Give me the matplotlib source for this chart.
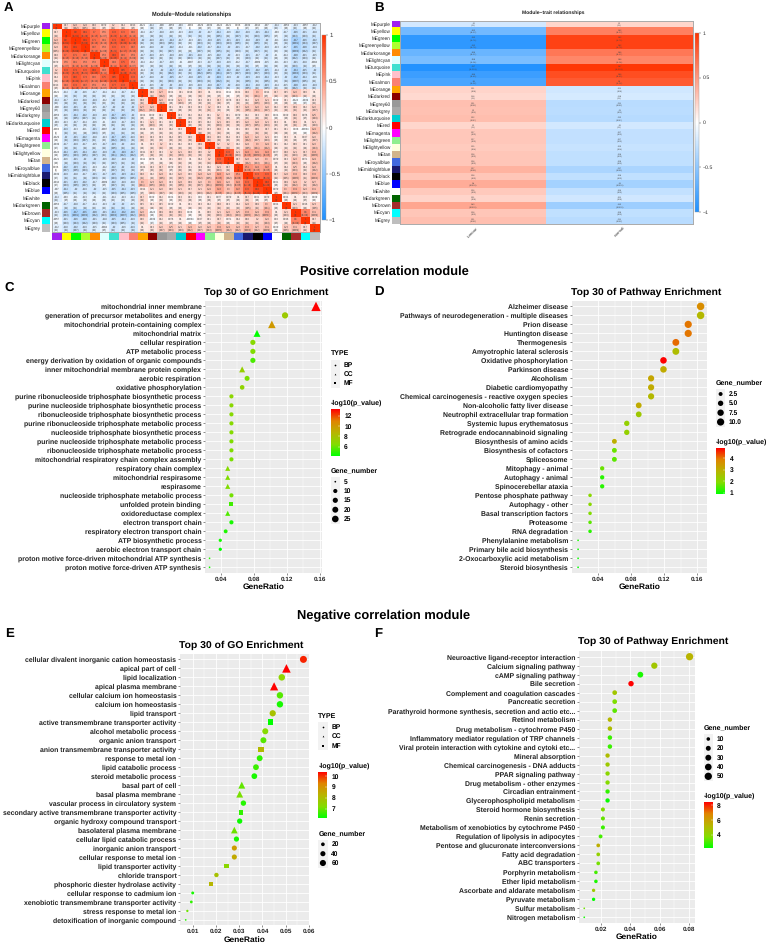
import math

import matplotlib
matplotlib.use("Agg")
import matplotlib.pyplot as plt
import numpy as np
from matplotlib.cm import ScalarMappable
from matplotlib.colors import LinearSegmentedColormap, ListedColormap, Normalize
from matplotlib.patches import Rectangle

plt.rcParams["font.family"] = ["Liberation Sans", "DejaVu Sans"]
plt.rcParams["text.hinting"] = "no_hinting"  # tiny labels look rough when hinted

W, H = 768, 944

# WGCNA module eigengenes, in clustering order
modules = [
    "purple", "yellow", "green", "greenyellow", "darkorange", "lightcyan", "turquoise",
    "pink", "salmon", "orange", "darkred", "grey60", "darkgrey", "darkturquoise", "red",
    "magenta", "lightgreen", "lightyellow", "tan", "royalblue", "midnightblue", "black",
    "blue", "white", "darkgreen", "brown", "cyan", "grey",
]
module_colors = [
    "#A020F0", "#FFFF00", "#00FF00", "#ADFF2F", "#FF8C00", "#E0FFFF", "#40E0D0",
    "#FFC0CB", "#FA8072", "#FFA500", "#8B0000", "#999999", "#A9A9A9", "#00CED1", "#FF0000",
    "#FF00FF", "#90EE90", "#FFFFE0", "#D2B48C", "#4169E1", "#191970", "#000000",
    "#0000FF", "#FFFFFF", "#006400", "#A52A2A", "#00FFFF", "#BEBEBE",
]

# upper triangle of the module-module correlation, one row per module
module_corr = [
    [1, .17, .28, .24, .18, .079, .2, .14, .093, -.021, -.14, -.08, -.063, -.09, -.004, -.029, -.049, -.024, -.021, .006, -.049, -.044, -.07, -.14, -.064, -.13, -.067, -.12],
    [1, .9, .81, .7, .55, .78, .72, .62, -.14, -.17, -.18, -.16, -.13, -.19, -.2, -.17, -.24, -.16, -.22, -.19, -.21, -.24, -.09, -.17, -.26, -.21, -.18],
    [1, .91, .71, .61, .79, .82, .74, -.2, -.19, -.21, -.24, -.17, -.13, -.21, -.19, -.25, -.21, -.23, -.18, -.23, -.2, -.11, -.18, -.37, -.26, -.22],
    [1, .67, .58, .76, .73, .67, -.16, -.18, -.2, -.22, -.14, -.11, -.22, -.17, -.24, -.2, -.21, -.17, -.22, -.19, -.13, -.17, -.35, -.28, -.19],
    [1, .58, .84, .66, .59, -.17, -.19, -.15, -.19, -.16, -.21, -.18, -.15, -.22, -.2, -.13, -.21, -.17, -.2, -.1, -.14, -.28, -.21, -.15],
    [1, .63, .75, .54, -.14, -.12, -.17, -.16, -.1, -.087, -.13, -.17, -.19, -.16, -.12, -.17, -.089, -.15, -.11, -.13, -.21, -.18, -.084],
    [1, .85, .77, -.14, -.2, -.2, -.27, -.19, -.2, -.27, -.23, -.3, -.22, -.22, -.25, -.22, -.25, -.14, -.2, -.34, -.25, -.2],
    [1, .78, -.17, -.18, -.2, -.25, -.17, -.18, -.25, -.2, -.29, -.19, -.2, -.23, -.19, -.24, -.13, -.2, -.32, -.24, -.16],
    [1, -.14, -.16, -.2, -.2, -.19, -.16, -.19, -.18, -.27, -.2, -.18, -.24, -.18, -.23, -.14, -.15, -.28, -.19, -.19],
    [1, .18, .27, .064, .11, .098, .16, .1, .091, .011, .084, .18, .3, .094, .17, .15, .26, .16, .1],
    [1, .26, .069, .21, .09, .13, .13, .17, .078, .13, .12, .23, .21, .029, .11, -.024, -.049, .13],
    [1, .11, .11, .13, .13, .2, .13, .1, .17, .24, .26, .22, .12, .15, .19, .12, .22],
    [1, .13, .12, .14, .11, .2, .11, .079, .12, .13, .16, .024, .069, .18, .076, .25],
    [1, .13, .15, .12, .21, .16, .15, .22, .24, .21, .13, .1, .19, .1, .21],
    [1, .16, .13, .18, .1, .11, .16, .19, .17, .11, .11, .028, -.0084, .29],
    [1, .19, .16, .14, .13, .28, .22, .21, .06, .13, .1, .087, .22],
    [1, .2, .2, .12, .24, .3, .29, .11, .12, .16, .11, .26],
    [1, .78, .21, .44, .41, .44, .077, .18, .21, .17, .33],
    [1, .17, .28, .26, .3, .079, .13, .26, .071, .29],
    [1, .51, .44, .47, .1, .14, .25, .14, .28],
    [1, .74, .76, .17, .24, .33, .18, .34],
    [1, .88, .061, .19, .29, .2, .27],
    [1, .079, .3, .39, .26, .31],
    [1, .064, .1, .08, .029],
    [1, .21, .096, .23],
    [1, .6, .31],
    [1, .17],
    [1],
]

# module-trait correlation with tumour; normal is the opposite sign
tumour_corr = [
    -.2, -.62, -.92, -.92, -.66, -.58, -.97, -.86, -.8, .21, .18, .31, .3, .32, .2, .27,
    .27, .25, .28, .28, .37, .28, .4, .26, .21, .43, .28, .31,
]
trait_names = ["tumour", "normal"]
sample_n = 66

# panel C
go_pos_terms = [
    "mitochondrial inner membrane", "generation of precursor metabolites and energy",
    "mitochondrial protein-containing complex", "mitochondrial matrix", "cellular respiration",
    "ATP metabolic process", "energy derivation by oxidation of organic compounds",
    "inner mitochondrial membrane protein complex", "aerobic respiration",
    "oxidative phosphorylation", "purine ribonucleoside triphosphate biosynthetic process",
    "purine nucleoside triphosphate biosynthetic process",
    "ribonucleoside triphosphate biosynthetic process",
    "purine ribonucleoside triphosphate metabolic process",
    "nucleoside triphosphate biosynthetic process",
    "purine nucleoside triphosphate metabolic process",
    "ribonucleoside triphosphate metabolic process",
    "mitochondrial respiratory chain complex assembly", "respiratory chain complex",
    "mitochondrial respirasome", "respirasome", "nucleoside triphosphate metabolic process",
    "unfolded protein binding", "oxidoreductase complex", "electron transport chain",
    "respiratory electron transport chain", "ATP biosynthetic process",
    "aerobic electron transport chain", "proton motive force-driven mitochondrial ATP synthesis",
    "proton motive force-driven ATP synthesis",
]
go_pos_ratio = [
    .1555, .118, .102, .084, .079, .079, .079, .066, .072, .066, .053, .053, .053, .053, .053,
    .053, .053, .053, .0485, .0485, .0485, .053, .053, .0485, .053, .046, .0395, .0395, .0265, .0265,
]
go_pos_genes = [30, 22, 19, 16, 15, 15, 15, 12, 14, 12, 10, 10, 10, 10, 10, 10, 10, 10, 9, 9, 9, 10, 10, 9, 10, 9, 7, 7, 5, 5]
go_pos_logp = [13.2, 7.5, 10, 4.2, 6.6, 6.4, 5.5, 7.2, 6.3, 6.9, 6.8, 6.7, 6.6, 6.6, 6.5, 6.4, 6.4, 6.3, 6.5, 6.4, 6.4, 6.2, 5.3, 5.6, 4.6, 4.7, 4.5, 4.2, 4.9, 4.5]
go_pos_type = ["CC", "BP", "CC", "CC", "BP", "BP", "BP", "CC", "BP", "BP", "BP", "BP", "BP", "BP", "BP", "BP", "BP", "BP", "CC", "CC", "CC", "BP", "MF", "CC", "BP", "BP", "BP", "BP", "BP", "BP"]

# panel D
kegg_pos_terms = [
    "Alzheimer disease", "Pathways of neurodegeneration - multiple diseases", "Prion disease",
    "Huntington disease", "Thermogenesis", "Amyotrophic lateral sclerosis",
    "Oxidative phosphorylation", "Parkinson disease", "Alcoholism", "Diabetic cardiomyopathy",
    "Chemical carcinogenesis - reactive oxygen species", "Non-alcoholic fatty liver disease",
    "Neutrophil extracellular trap formation", "Systemic lupus erythematosus",
    "Retrograde endocannabinoid signaling", "Biosynthesis of amino acids",
    "Biosynthesis of cofactors", "Spliceosome", "Mitophagy - animal", "Autophagy - animal",
    "Spinocerebellar ataxia", "Pentose phosphate pathway", "Autophagy - other",
    "Basal transcription factors", "Proteasome", "RNA degradation", "Phenylalanine metabolism",
    "Primary bile acid biosynthesis", "2-Oxocarboxylic acid metabolism", "Steroid biosynthesis",
]
kegg_pos_ratio = [
    .164, .164, .149, .149, .134, .134, .119, .119, .104, .104, .104, .089, .089, .0745, .0745,
    .0595, .0595, .0595, .0447, .0447, .0447, .03, .03, .03, .03, .03, .0155, .0155, .0155, .0155,
]
kegg_pos_genes = [11, 11, 10, 10, 9, 9, 8, 8, 7, 7, 7, 6, 6, 5, 5, 4, 4, 4, 3, 3, 3, 2, 2, 2, 2, 2, 1, 1, 1, 1]
kegg_pos_logp = [3.7, 2.8, 4.0, 4.0, 4.1, 2.7, 4.9, 3.1, 3.2, 3.1, 2.8, 3.1, 2.4, 2.2, 2.2, 3, 1.7, 1.6, 1.7, 1.2, 1.2, 2, 2, 1.9, 1.6, 1.2, 1.1, 1.0, 1.0, .9]

# panel E
go_neg_terms = [
    "cellular divalent inorganic cation homeostasis", "apical part of cell", "lipid localization",
    "apical plasma membrane", "cellular calcium ion homeostasis", "calcium ion homeostasis",
    "lipid transport", "active transmembrane transporter activity", "alcohol metabolic process",
    "organic anion transport", "anion transmembrane transporter activity", "response to metal ion",
    "lipid catabolic process", "steroid metabolic process", "basal part of cell",
    "basal plasma membrane", "vascular process in circulatory system",
    "secondary active transmembrane transporter activity", "organic hydroxy compound transport",
    "basolateral plasma membrane", "cellular lipid catabolic process", "inorganic anion transport",
    "cellular response to metal ion", "lipid transporter activity", "chloride transport",
    "phosphoric diester hydrolase activity", "cellular response to cadmium ion",
    "xenobiotic transmembrane transporter activity", "stress response to metal ion",
    "detoxification of inorganic compound",
]
go_neg_ratio = [
    .0576, .0503, .0483, .045, .0475, .0475, .0444, .0434, .0412, .0404, .0394, .0388, .0372, .0365, .0311,
    .0302, .0318, .0308, .0302, .0279, .0288, .0279, .0279, .0245, .0202, .018, .01, .0094, .0077, .007,
]
go_neg_genes = [82, 71, 69, 64, 67, 67, 63, 62, 58, 57, 56, 55, 53, 52, 44, 43, 45, 44, 43, 40, 41, 40, 40, 35, 29, 26, 14, 13, 11, 10]
go_neg_logp = [10.1, 10.4, 7.4, 10.4, 6.8, 6.3, 7.9, 6.1, 7.2, 6.8, 8.1, 6.5, 6.6, 6.3, 6.9, 7.1, 6.4, 6.5, 6.2, 7, 6.3, 8.8, 8.5, 7.3, 7.9, 8.2, 6.3, 6.5, 7, 6.4]
go_neg_type = ["BP", "CC", "BP", "CC", "BP", "BP", "BP", "MF", "BP", "BP", "MF", "BP", "BP", "BP", "CC", "CC", "BP", "MF", "BP", "CC", "BP", "BP", "BP", "MF", "BP", "MF", "BP", "BP", "BP", "BP"]

# panel F
kegg_neg_terms = [
    "Neuroactive ligand-receptor interaction", "Calcium signaling pathway", "cAMP signaling pathway",
    "Bile secretion", "Complement and coagulation cascades", "Pancreatic secretion",
    "Parathyroid hormone synthesis, secretion and actio etc...", "Retinol metabolism",
    "Drug metabolism - cytochrome P450", "Inflammatory mediator regulation of TRP channels",
    "Viral protein interaction with cytokine and cytoki etc...", "Mineral absorption",
    "Chemical carcinogenesis - DNA adducts", "PPAR signaling pathway",
    "Drug metabolism - other enzymes", "Circadian entrainment", "Glycerophospholipid metabolism",
    "Steroid hormone biosynthesis", "Renin secretion", "Metabolism of xenobiotics by cytochrome P450",
    "Regulation of lipolysis in adipocytes", "Pentose and glucuronate interconversions",
    "Fatty acid degradation", "ABC transporters", "Porphyrin metabolism", "Ether lipid metabolism",
    "Ascorbate and aldarate metabolism", "Pyruvate metabolism", "Sulfur metabolism", "Nitrogen metabolism",
]
kegg_neg_ratio = [
    .0806, .0564, .0468, .0404, .0292, .0292, .0292, .0259, .0259, .0259, .0259, .0243, .0243, .0243, .0243,
    .0243, .0243, .0211, .0211, .0211, .0195, .0179, .0179, .0179, .0163, .0163, .0147, .0147, .0083, .0083,
]
kegg_neg_genes = [50, 35, 29, 25, 18, 18, 18, 16, 16, 16, 16, 15, 15, 15, 15, 15, 15, 13, 13, 13, 12, 11, 11, 11, 10, 10, 9, 9, 5, 5]
kegg_neg_logp = [5.3, 4.6, 2.5, 8.4, 4.6, 3.7, 3.3, 5.2, 5, 2.9, 2.9, 5, 4.5, 4.0, 3.8, 2.8, 2.3, 3.7, 3.4, 2.9, 3.0, 5.5, 4.2, 3.6, 3.0, 2.5, 4.5, 2.2, 3.5, 2.4]

heat_cmap = LinearSegmentedColormap.from_list("bwr", ["#1E90FF", "#FFFFFF", "#FF3300"])
# green to red through olive, like a Lab-space ggplot gradient
dot_cmap = LinearSegmentedColormap.from_list(
    "gr", ["#00FF00", "#84DC00", "#B8B400", "#E08400", "#FF0000"]
)

fig = plt.figure(figsize=(W / 100, H / 100), dpi=100)

# transparent full-page axes in pixel units, used for the legend keys
overlay = fig.add_axes([0, 0, 1, 1], zorder=5)
overlay.set_xlim(0, W)
overlay.set_ylim(H, 0)
overlay.patch.set_alpha(0)
overlay.set_axis_off()


def px_axes(x0, y0, x1, y1):
    return fig.add_axes([x0 / W, 1 - y1 / H, (x1 - x0) / W, (y1 - y0) / H])


def px_text(x, y, s, size, weight="bold", ha="left", va="center", color="black", **kw):
    fig.text(x / W, 1 - y / H, s, fontsize=size, fontweight=weight, ha=ha, va=va, color=color, **kw)


def cell_label(r):
    # two-sided p from the correlation (normal approximation of the t statistic)
    if abs(r) >= 1:
        return "1\n(0)"
    t = abs(r) * math.sqrt((sample_n - 2) / (1 - r * r))
    p = math.erfc(t / math.sqrt(2))
    return f"{r:.2g}\n({p:.1g})"


def corr_colorbar(im, x0, y0, x1, y1, label_size):
    cax = px_axes(x0, y0, x1, y1)
    cb = fig.colorbar(im, cax=cax, ticks=[-1, -.5, 0, .5, 1])
    cb.ax.set_yticklabels(["\u22121", "\u22120.5", "0", "0.5", "1"])
    cb.ax.tick_params(labelsize=label_size, length=1.5, width=0.3, pad=0.8, colors="#333333")
    cb.outline.set_linewidth(0.3)
    cb.outline.set_edgecolor("#999999")


def row_swatches(colors, x0, y0, x1, y1):
    ax = px_axes(x0, y0, x1, y1)
    ax.imshow(np.arange(len(colors))[:, None], cmap=ListedColormap(colors), aspect="auto",
              interpolation="nearest")
    ax.set_axis_off()


# panel A
n_mod = len(modules)
corr = np.eye(n_mod)
for i, row in enumerate(module_corr):
    corr[i, i:] = row
    corr[i:, i] = row

ax = px_axes(51.7, 22.7, 319.5, 232)
im = ax.imshow(corr, cmap=heat_cmap, vmin=-1, vmax=1, aspect="auto", interpolation="nearest")
for i in range(n_mod):
    for j in range(n_mod):
        ax.text(j, i, cell_label(corr[i, j]), fontsize=1.8, ha="center", va="center",
                linespacing=1.0, color="#444444")
ax.set_xticks([])
ax.set_yticks([])
for sp in ax.spines.values():
    sp.set_color("#AAAAAA")
    sp.set_linewidth(0.7)
row_swatches(module_colors, 42.3, 22.7, 50, 232)
bottom = px_axes(51.7, 233, 319.5, 240.5)
bottom.imshow(np.arange(n_mod)[None, :], cmap=ListedColormap(module_colors), aspect="auto",
              interpolation="nearest")
bottom.set_axis_off()
for i, name in enumerate(modules):
    px_text(40.7, 22.7 + (i + .5) * 209.3 / n_mod, "ME" + name, 3.35, weight="normal", ha="right", color="#222222")
corr_colorbar(im, 322, 35, 326, 220, 4.4)
px_text(192, 14, "Module\u2212Module relationships", 4.1, ha="center", color="#222222")

# panel B
trait = np.column_stack([tumour_corr, [-v for v in tumour_corr]])
ax = px_axes(400.3, 20.7, 692.7, 224)
im = ax.imshow(trait, cmap=heat_cmap, vmin=-1, vmax=1, aspect="auto", interpolation="nearest")
for i in range(n_mod):
    for j in range(2):
        ax.text(j, i, cell_label(trait[i, j]), fontsize=1.6, ha="center", va="center",
                linespacing=1.0, color="#444444")
ax.set_xticks([])
ax.set_yticks([])
for sp in ax.spines.values():
    sp.set_color("#AAAAAA")
    sp.set_linewidth(0.7)
row_swatches(module_colors, 392, 20.7, 399.3, 224)
for i, name in enumerate(modules):
    px_text(390.7, 20.7 + (i + .5) * 203.3 / n_mod, "ME" + name, 3.35, weight="normal", ha="right", color="#222222")
for j, name in enumerate(trait_names):
    px_text(400.3 + (j + .5) * 146.2, 232, name, 3.2, weight="normal", ha="center", rotation=45, color="#333333")
corr_colorbar(im, 695, 32.7, 699.3, 212.3, 3.8)
px_text(553, 13, "Module\u2212trait relationships", 3.65, ha="center", color="#222222")

# section headings and panel letters
px_text(384, 272, "Positive correlation module", 9.25, ha="center")
px_text(384, 616, "Negative correlation module", 9.25, ha="center")
for letter, x, y in [("A", 4, 8), ("B", 374, 8), ("C", 4, 288), ("D", 374, 292), ("E", 5, 634), ("F", 374, 634)]:
    px_text(x, y, letter, 9.5)

marker_of = {"BP": "o", "CC": "^", "MF": "s"}
marker_scale = {"BP": 1.0, "CC": 1.3, "MF": 0.9}


def dot_size(genes, gmin, gmax, dmin, dmax, scale=1.0):
    # ggplot area scale: diameter grows with the square root of the rescaled count
    frac = np.clip((np.asarray(genes, dtype=float) - gmin) / (gmax - gmin), 0, 1)
    return ((dmin + (dmax - dmin) * np.sqrt(frac)) * scale * 0.72) ** 2


def enrichment(box, terms, ratio, genes, logp, types, ticks, x_at, gene_rng, tick_labels, title, title_xy):
    x0, y0, x1, y1 = box
    ax = px_axes(x0, y0, x1, y1)
    ax.set_facecolor("#EBEBEB")
    n = len(terms)
    ys = np.arange(n)[::-1]
    # limits come from two tick positions given in pixels
    (t0, p0), (t1, p1) = x_at
    per_px = (t1 - t0) / (p1 - p0)
    ax.set_xlim(t0 + (x0 - p0) * per_px, t0 + (x1 - p0) * per_px)
    ax.set_ylim(-0.6, n - 0.4)
    ax.set_xticks(ticks)
    ax.set_xticklabels(tick_labels)
    ax.set_xticks((np.array(ticks[:-1]) + np.array(ticks[1:])) / 2, minor=True)
    ax.set_yticks(ys)
    ax.set_yticklabels(terms)
    ax.grid(which="major", color="white", lw=0.6)
    ax.grid(which="minor", axis="x", color="white", lw=0.3)
    ax.set_axisbelow(True)
    for sp in ax.spines.values():
        sp.set_visible(False)
    ax.tick_params(which="minor", length=0)
    ax.tick_params(which="major", length=1.6, width=0.4, pad=1, color="#333333", labelcolor="#222222")
    ax.tick_params(axis="y", which="major", labelsize=4.95)
    ax.tick_params(axis="x", which="major", labelsize=4.6)
    for lab in ax.get_xticklabels() + ax.get_yticklabels():
        lab.set_fontweight("bold")
    ratio = np.asarray(ratio)
    genes = np.asarray(genes)
    logp = np.asarray(logp)
    types = np.asarray(types if types is not None else ["BP"] * n)
    lo, hi = logp.min(), logp.max()
    for t in marker_of:
        sel = types == t
        ax.scatter(ratio[sel], ys[sel], c=logp[sel], cmap=dot_cmap, vmin=lo, vmax=hi,
                   s=dot_size(genes[sel], *gene_rng, marker_scale[t]), marker=marker_of[t], linewidths=0, zorder=3)
    ax.set_xlabel("GeneRatio", fontsize=6, fontweight="bold", labelpad=1.2)
    px_text(title_xy[0], title_xy[1], title, 7.45, ha="center")
    return lo, hi


def legend_gradient(x, y_title, y0, y1, lo, hi, ticks):
    px_text(x, y_title, "-log10(p_value)", 5)
    cax = px_axes(x, y0, x + 9, y1)
    cb = fig.colorbar(ScalarMappable(Normalize(lo, hi), dot_cmap), cax=cax, ticks=ticks)
    cb.outline.set_visible(False)
    cb.ax.tick_params(labelsize=4.8, length=1.6, width=0.3, direction="in", color="white", pad=3.2)
    for lab in cb.ax.get_yticklabels():
        lab.set_fontweight("bold")


def legend_key(x, yy):
    overlay.add_patch(Rectangle((x, yy - 4.65), 9.3, 9.3, fc="#F2F2F2", ec="none"))


def legend_sizes(x, y_title, ys, values, gene_rng, labels):
    px_text(x, y_title, "Gene_number", 5)
    for yy, lab in zip(ys, labels):
        legend_key(x, yy)
        px_text(x + 13, yy, lab, 4.8)
    overlay.scatter([x + 4.6] * len(ys), ys, s=dot_size(values, *gene_rng), c="black", linewidths=0, zorder=3)


def legend_types(x, y_title, ys):
    px_text(x, y_title, "TYPE", 5)
    for yy, t in zip(ys, marker_of):
        legend_key(x, yy)
        overlay.scatter([x + 4.6], [yy], s=(1.7 * 0.72) ** 2, c="black", marker=marker_of[t], linewidths=0, zorder=3)
        px_text(x + 13, yy, t, 4.8)


# panel C
rng_c = (5, 30, 1.7, 7.2)
lo, hi = enrichment((205, 301, 321.7, 572.7), go_pos_terms, go_pos_ratio, go_pos_genes,
                    go_pos_logp, go_pos_type, [.04, .08, .12, .16], ((.04, 220.7), (.16, 319.7)), rng_c,
                    ["0.04", "0.08", "0.12", "0.16"], "Top 30 of GO Enrichment", (266.3, 292.3))
legend_types(330.7, 353.3, [364.7, 374, 383.3])
legend_gradient(330.7, 403, 409.3, 456, lo, hi, [6, 8, 10, 12])
legend_sizes(330.7, 470.7, [481.7, 491, 500.3, 509.7, 519], [5, 10, 15, 20, 25], rng_c, ["5", "10", "15", "20", "25"])

# panel D
rng_d = (1, 11, 1.7, 7.5)
lo, hi = enrichment((571.7, 301, 707.3, 572.7), kegg_pos_terms, kegg_pos_ratio, kegg_pos_genes,
                    kegg_pos_logp, None, [.04, .08, .12, .16], ((.04, 598.3), (.16, 697.3)), rng_d,
                    ["0.04", "0.08", "0.12", "0.16"], "Top 30 of Pathway Enrichment", (646, 292.3))
legend_sizes(716, 382.7, [394, 403.3, 412.7, 422], [2.5, 5, 7.5, 10], rng_d, ["2.5", "5.0", "7.5", "10.0"])
legend_gradient(716, 441.7, 448, 494, lo, hi, [1, 2, 3, 4])

# panel E
rng_e = (10, 82, 1.7, 7)
lo, hi = enrichment((180, 654, 309.3, 925.3), go_neg_terms, go_neg_ratio, go_neg_genes,
                    go_neg_logp, go_neg_type, [.01, .02, .03, .04, .05, .06], ((.01, 192.7), (.06, 309)), rng_e,
                    ["0.01", "0.02", "0.03", "0.04", "0.05", "0.06"], "Top 30 of GO Enrichment", (241.5, 645.7))
legend_types(318.3, 716, [727, 736.3, 745.7])
legend_gradient(318.3, 765.7, 771.7, 818.3, lo, hi, [7, 8, 9, 10])
legend_sizes(318.3, 833.3, [844.3, 853.7, 863], [20, 40, 60], rng_e, ["20", "40", "60"])

# panel F
rng_f = (5, 50, 1.7, 7.3)
lo, hi = enrichment((579, 651.3, 695, 922.7), kegg_neg_terms, kegg_neg_ratio, kegg_neg_genes,
                    kegg_neg_logp, None, [.02, .04, .06, .08], ((.02, 601.3), (.08, 688.7)), rng_f,
                    ["0.02", "0.04", "0.06", "0.08"], "Top 30 of Pathway Enrichment", (653.3, 641.7))
legend_sizes(703.7, 727.7, [739, 748.3, 757.7, 767, 776.3], [10, 20, 30, 40, 50], rng_f, ["10", "20", "30", "40", "50"])
legend_gradient(703.7, 796, 802, 848.3, lo, hi, [4, 6, 8])

fig.savefig("out.png", dpi=100, facecolor="white")
